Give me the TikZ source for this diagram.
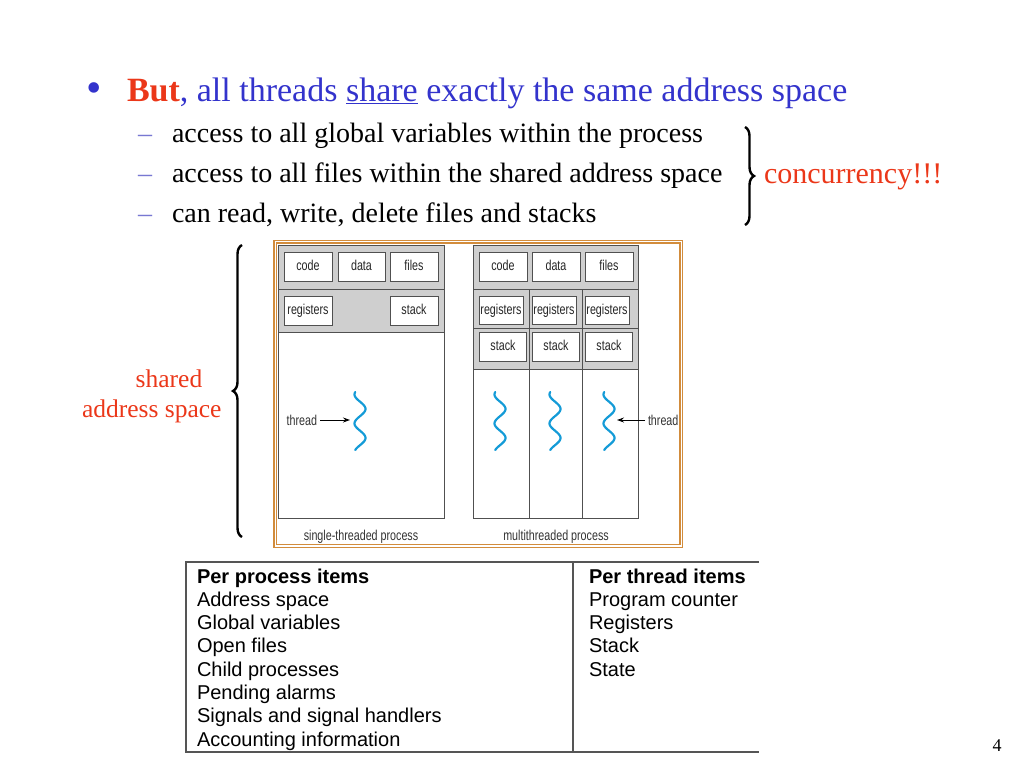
\documentclass[tikz,border=0pt]{standalone}
\usepackage{fontspec}
\setmainfont{Liberation Serif}
\newfontfamily\helv{Liberation Sans}
\newfontfamily\helvcond[FakeStretch=0.75]{Liberation Sans}
\usepackage{tikz}
\usetikzlibrary{decorations.pathreplacing,arrows.meta}

\definecolor{titleblue}{RGB}{51,51,204}
\definecolor{hotred}{RGB}{235,55,25}
\definecolor{dashblue}{RGB}{120,120,210}
\definecolor{frameorange}{RGB}{210,140,60}
\definecolor{hdrgray}{RGB}{207,207,207}
\definecolor{boxgray}{RGB}{80,80,80}
\definecolor{threadblue}{RGB}{20,155,215}
\definecolor{tablegray}{RGB}{85,85,85}

\begin{document}
\begin{tikzpicture}[x=1pt,y=-1pt,
	every node/.style={inner sep=0pt,outer sep=0pt},
	boite/.style={draw=boxgray,line width=0.9pt,fill=white,minimum width=48pt,minimum height=29pt,text height=10.5pt,text depth=3pt,font=\helvcond\fontsize{14.3}{16}\selectfont,text=black!85},
	etiq/.style={font=\helvcond\fontsize{14.3}{16}\selectfont,text=black!80},
	trait/.style={draw=boxgray,line width=0.9pt},
	entete/.style={fill=hdrgray},
	fil/.style={draw=threadblue,line width=2.2pt,line cap=round},
	fleche/.style={-{Stealth[length=7pt,width=5pt]},line width=1pt,shorten <=3pt},
	cadre/.style={draw=frameorange,line width=1.3pt},
	accolade/.style={decorate,decoration={brace,amplitude=9pt},line width=2.4pt},
	titre/.style={font=\fontsize{34}{40}\selectfont},
	sous/.style={font=\fontsize{28}{32}\selectfont},
	rouge/.style={font=\fontsize{25.5}{30}\selectfont,text=hotred},
	tableau/.style={draw=tablegray,line width=1.1pt},
	cellule/.style={anchor=base west,font=\helv\fontsize{20}{24}\selectfont}]
	%
	\useasboundingbox (0,0) rectangle (1024,768);
	%
	% Titre et sous-points
	\node[anchor=base,text=titleblue,font=\fontsize{44}{48}\selectfont] (puce) at (94,102) {\textbullet};
	\node[titre,anchor=base west,text=titleblue] (titre) at (127,101) {{\color{hotred}\bfseries But}, all threads \underline{share} exactly the same address space};
	\foreach \y/\t [count=\i] in {142/access to all global variables within the process,182/access to all files within the shared address space,222/{can read, write, delete files and stacks}}{
		\node[sous,anchor=base,text=dashblue] (tiret\i) at (145,\y) {--};
		\node[sous,anchor=base west] (ligne\i) at (172,\y) {\t};
	}
	\draw[accolade] (745,127) -- (745,225);
	\node[rouge,anchor=base west,font=\fontsize{30}{34}\selectfont] (concur) at (764,183) {concurrency!!!};
	%
	% Espace d'adressage
	\draw[accolade] (242,537) -- (242,245);
	\node[rouge,anchor=base] (shared) at (169,387) {shared};
	\node[rouge,anchor=base west] (adresse) at (82,417) {address space};
	%
	% Cadre
	\draw[cadre] (274,240.5) rectangle (682.5,547.5);
	\draw[cadre] (276.5,243) rectangle (680,544.5);
	%
	% Processus a un seul thread
	\fill[entete] (278,245) rectangle (444,332);
	\draw[trait] (278,245) rectangle (444,518);
	\draw[trait] (278,289) -- (444,289) (278,332) -- (444,332);
	\node[boite] (code1) at (308,266.5) {code};
	\node[boite,minimum width=47pt] (data1) at (361.5,266.5) {data};
	\node[boite] (files1) at (414,266.5) {files};
	\node[boite] (reg1) at (308,310.5) {registers};
	\node[boite] (stack1) at (414,310.5) {stack};
	%
	% Processus multithread
	\fill[entete] (473,245) rectangle (638,369);
	\draw[trait] (473,245) rectangle (638,518);
	\draw[trait] (473,289) -- (638,289) (473,328) -- (638,328) (473,369) -- (638,369);
	\draw[trait] (529,289) -- (529,518) (582,289) -- (582,518);
	\foreach \cx/\n in {503/code,556/data,609/files}
		\node[boite] (\n2) at (\cx,266.5) {\n};
	\foreach \cx [count=\i] in {501,554,607}
		\node[boite,minimum width=44pt,minimum height=28pt] (reg2\i) at (\cx,310.5) {registers};
	\foreach \cx [count=\i] in {503,556,609}
		\node[boite,minimum width=47pt] (stack2\i) at (\cx,346.5) {stack};
	%
	% Threads
	\foreach \cx in {360,500,555,609}
		\draw[fil] plot[domain=-120:600,samples=80,smooth] ({\cx+5.5*sin(\x)},{392+(\x+120)*0.0806});
	\coordinate (fil1) at (350,420);
	\coordinate (fil4) at (617,420);
	\node[etiq,anchor=east] (lab1) at (317,420) {thread};
	\node[etiq,anchor=west] (lab2) at (648,420) {thread};
	\draw[fleche] (lab1) -- (fil1);
	\draw[fleche] (lab2) -- (fil4);
	\node[etiq] (cap1) at (361,537) {single-threaded process};
	\node[etiq] (cap2) at (556,537) {multithreaded process};
	%
	% Tableau
	\draw[tableau] (759,562) -- (186,562) -- (186,752) -- (759,752);
	\draw[tableau] (573,562) -- (573,752);
	\node[cellule,font=\helv\bfseries\fontsize{20}{24}\selectfont] (proc0) at (197,583) {Per process items};
	\foreach \t [count=\i] in {Address space,Global variables,Open files,Child processes,Pending alarms,Signals and signal handlers,Accounting information}
		\node[cellule] (proc\i) at (197,{583+23.3*\i}) {\t};
	\node[cellule,font=\helv\bfseries\fontsize{20}{24}\selectfont] (thr0) at (589,583) {Per thread items};
	\foreach \t [count=\i] in {Program counter,Registers,Stack,State}
		\node[cellule] (thr\i) at (589,{583+23.3*\i}) {\t};
	%
	% Numero de page
	\node[anchor=base,font=\fontsize{18}{20}\selectfont] (numero) at (997,751) {4};
\end{tikzpicture}
\end{document}
